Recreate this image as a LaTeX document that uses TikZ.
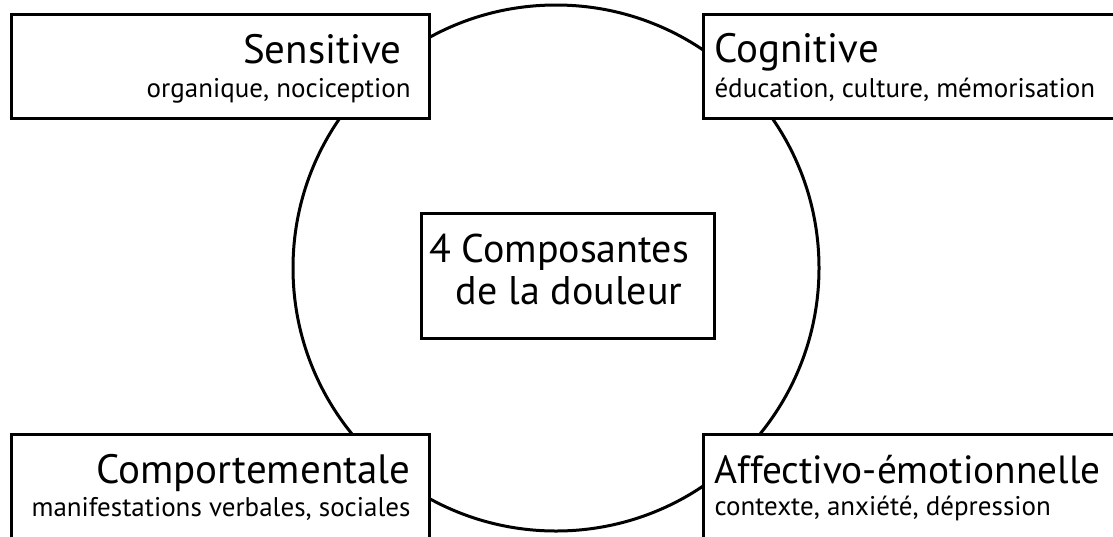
\documentclass[tikz,border=0pt]{standalone}
\usepackage{fontspec}
\setmainfont{PT Sans}
\begin{document}
\begin{tikzpicture}[x=1pt,y=-1pt,
  line width=3pt,
  box/.style={draw=black, fill=white, rectangle, inner sep=0pt, anchor=north west},
  title/.style={inner sep=0pt, font=\fontsize{41}{41}\selectfont},
  ctitle/.style={inner sep=0pt, font=\fontsize{40}{40}\selectfont},
  sub/.style={inner sep=0pt, font=\fontsize{27}{27}\selectfont},
  ring/.style={draw=black, circle, inner sep=0pt, minimum size=526pt}
]
\useasboundingbox (0,0) rectangle (1113,536);
\clip (0,0) rectangle (1113,536);
\node[ring] (circ) at (556,268) {};
\node[box, minimum width=418pt, minimum height=104pt] (sens) at (10,13) {};
\node[box, minimum width=440pt, minimum height=104pt] (cogn) at (702,13) {};
\node[box, minimum width=418pt, minimum height=120pt] (comp) at (10,433) {};
\node[box, minimum width=440pt, minimum height=120pt] (affe) at (702,433) {};
\node[box, minimum width=293pt, minimum height=125pt] (cent) at (420,212) {};
\node[title, anchor=base east] (t1) at (403,63) {Sensitive};
\node[sub, anchor=base east] (s1) at (412,97) {organique, nociception};
\node[title, anchor=base west] (t2) at (713,62) {Cognitive};
\node[sub, anchor=base west] (s2) at (713,97) {éducation, culture, mémorisation};
\node[title, anchor=base east] (t3) at (412,483) {Comportementale};
\node[sub, anchor=base east] (s3) at (412,516) {manifestations verbales, sociales};
\node[title, font=\fontsize{39.3}{40}\selectfont, anchor=base west] (t4) at (713,483) {Affectivo-émotionnelle};
\node[sub, anchor=base west] (s4) at (713,515) {contexte, anxiété, dépression};
\node[ctitle, anchor=base] (c1) at (559,262) {4 Composantes};
\node[ctitle, anchor=base] (c2) at (569,304) {de la douleur};
\end{tikzpicture}
\end{document}
